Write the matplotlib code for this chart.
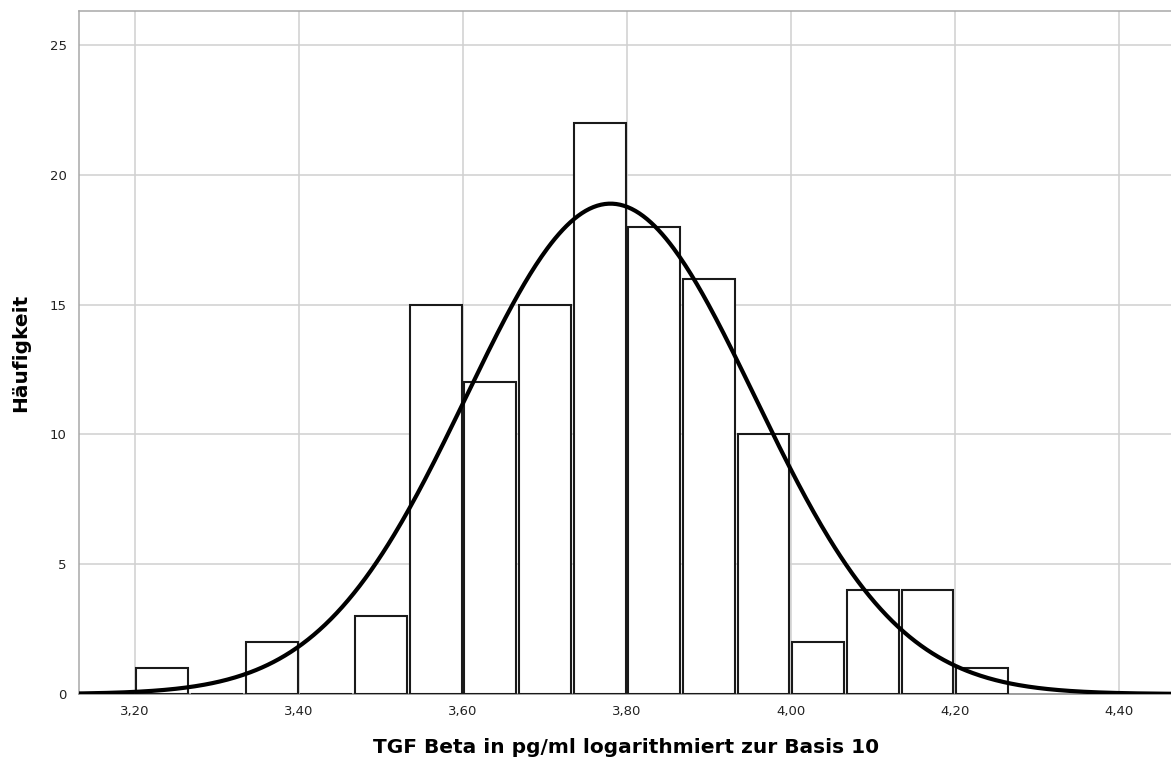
import numpy as np
import matplotlib
matplotlib.use("Agg")
import matplotlib.pyplot as plt
from matplotlib.ticker import FixedLocator, FuncFormatter

# histogram bins (log10 TGF beta), width 1/15
bin_start = 3.20
bin_width = 1 / 15
counts = [1, 0, 2, 0, 3, 15, 12, 15, 22, 18, 16, 10, 2, 4, 4, 1]

# fitted normal curve parameters
mean_val = 3.78
sd_val = 0.176

x_ticks = [3.20, 3.40, 3.60, 3.80, 4.00, 4.20, 4.40]
y_ticks = [0, 5, 10, 15, 20, 25]

fig = plt.figure(figsize=(11.71, 7.64), dpi=100)
ax = fig.add_axes([0.0675, 0.0916, 0.934, 0.894])

edges = bin_start + np.arange(len(counts)) * bin_width
bars_w = bin_width * 0.95
ax.bar(edges + bin_width / 2, counts, width=bars_w, facecolor="white",
       edgecolor="#1a1a1a", linewidth=1.5, zorder=3)

# normal curve scaled to counts
n = sum(counts)
xs = np.linspace(3.10, 4.50, 600)
ys = n * bin_width / (sd_val * np.sqrt(2 * np.pi)) * np.exp(-0.5 * ((xs - mean_val) / sd_val) ** 2)
ax.plot(xs, ys, color="black", linewidth=3.0, zorder=4, solid_capstyle="round")

ax.set_xlim(3.1317, 4.4659)
ax.set_ylim(0, 26.31)
ax.xaxis.set_major_locator(FixedLocator(x_ticks))
ax.yaxis.set_major_locator(FixedLocator(y_ticks))
ax.xaxis.set_major_formatter(FuncFormatter(lambda v, p: f"{v:.2f}".replace(".", ",")))
ax.tick_params(length=0, labelsize=9.5, colors="#222222", pad=8)
ax.tick_params(axis="y", pad=9)

ax.grid(True, color="#d0d0d0", linewidth=1.1, zorder=0)
ax.set_axisbelow(True)
for s in ax.spines.values():
    s.set_color("#a8a8a8")
    s.set_linewidth(1.1)
ax.spines["bottom"].set_color("#888888")

ax.set_xlabel("TGF Beta in pg/ml logarithmiert zur Basis 10", fontsize=14.5,
              fontweight="bold", labelpad=14)
ax.set_ylabel("Häufigkeit", fontsize=14.5, fontweight="bold")
ax.yaxis.set_label_coords(-0.045, 0.5)

fig.savefig("out.png", dpi=100)
